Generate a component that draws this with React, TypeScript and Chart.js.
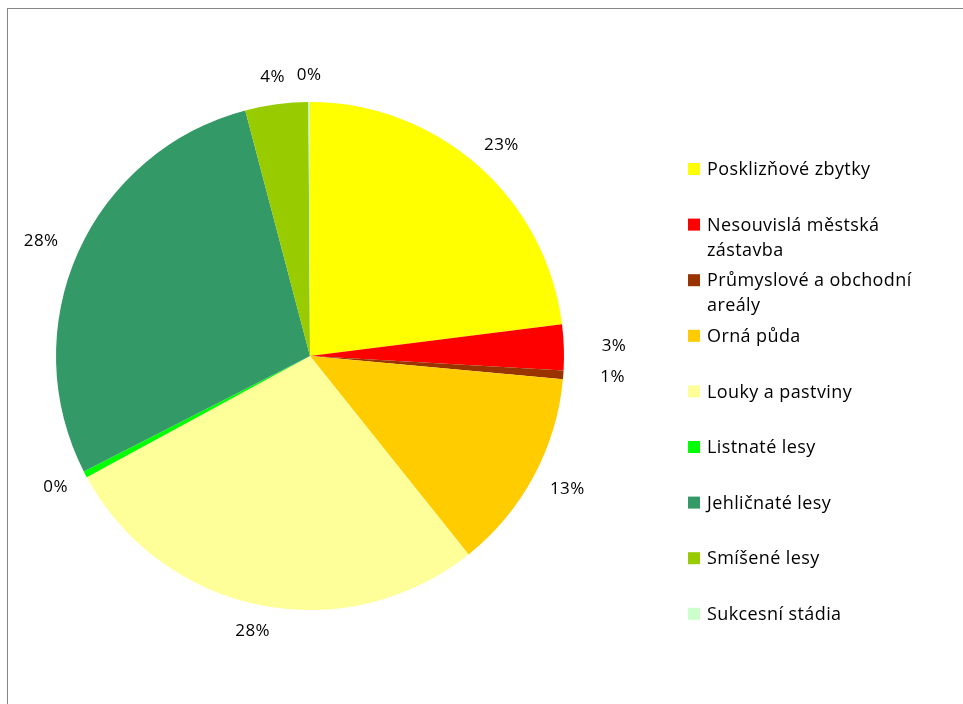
import React, { useEffect, useRef } from "react";
import { Chart, registerables } from "chart.js";

Chart.register(...registerables);

const categories = [
  "Posklizňové zbytky",
  "Nesouvislá městská zástavba",
  "Průmyslové a obchodní areály",
  "Orná půda",
  "Louky a pastviny",
  "Listnaté lesy",
  "Jehličnaté lesy",
  "Smíšené lesy",
  "Sukcesní stádia",
];
const values = [23.0, 2.9, 0.55, 12.8, 27.8, 0.4, 28.4, 4.0, 0.1];
const colors = [
  "#FFFF00",
  "#FF0000",
  "#993300",
  "#FFCC00",
  "#FFFF99",
  "#00FF00",
  "#339966",
  "#99CC00",
  "#CCFFCC",
];

const FONT = "'Open Sans', 'Noto Sans', sans-serif";

const labelsPlugin = {
  id: "outsideLabels",
  afterDatasetsDraw(chart: any) {
    const ctx = chart.ctx;
    const meta = chart.getDatasetMeta(0);
    const data = chart.data.datasets[0].data as number[];
    const total = data.reduce((a, b) => a + b, 0);
    ctx.save();
    ctx.font = `17px ${FONT}`;
    (ctx as any).letterSpacing = "0.4px";
    ctx.fillStyle = "#000";
    ctx.textAlign = "center";
    ctx.textBaseline = "middle";
    meta.data.forEach((arc: any, i: number) => {
      const { x, y, startAngle, endAngle, outerRadius } = arc.getProps(
        ["x", "y", "startAngle", "endAngle", "outerRadius"],
        true
      );
      const mid = (startAngle + endAngle) / 2;
      const c = Math.cos(mid);
      const s = Math.sin(mid);
      const txt = Math.round((data[i] / total) * 100) + "%";
      const w = ctx.measureText(txt).width;
      const gap = 18;
      const side = 20 * Math.pow(Math.abs(c), 16) * Math.sign(c);
      const px = x + (outerRadius + gap) * c + (w / 2) * c + side;
      const py = y + (outerRadius + gap) * s + 9 * s;
      ctx.fillText(txt, px, py);
    });
    ctx.restore();
  },
};

const legendPlugin = {
  id: "sideLegend",
  afterDraw(chart: any) {
    const ctx = chart.ctx;
    const labels = chart.data.labels as string[];
    const bg = chart.data.datasets[0].backgroundColor as string[];
    const boxX = 680;
    const textX = 699;
    const top = 160;
    const step = 55.6;
    const lineH = 25;
    const maxW = 235;
    ctx.save();
    ctx.font = `18px ${FONT}`;
    (ctx as any).letterSpacing = "0.4px";
    ctx.textAlign = "left";
    ctx.textBaseline = "middle";
    labels.forEach((lab, i) => {
      const y = top + i * step;
      ctx.fillStyle = bg[i];
      ctx.fillRect(boxX, y - 6, 12, 12);
      const words = lab.split(" ");
      const lines: string[] = [];
      let cur = "";
      words.forEach((wd) => {
        const t = cur ? cur + " " + wd : wd;
        if (ctx.measureText(t).width > maxW && cur) {
          lines.push(cur);
          cur = wd;
        } else cur = t;
      });
      if (cur) lines.push(cur);
      ctx.fillStyle = "#000";
      lines.forEach((ln, k) => ctx.fillText(ln, textX, y + 1 + k * lineH));
    });
    ctx.restore();
  },
};

export default function App() {
  const ref = useRef<HTMLCanvasElement>(null);
  useEffect(() => {
    const chart = new Chart(ref.current as HTMLCanvasElement, {
      type: "pie",
      data: {
        labels: categories,
        datasets: [
          {
            data: values,
            backgroundColor: colors,
            borderWidth: 0,
            hoverOffset: 0,
          },
        ],
      },
      options: {
        responsive: false,
        animation: false,
        events: [],
        layout: { padding: { left: 48, right: 399, top: 93, bottom: 94 } },
        plugins: {
          legend: { display: false },
          tooltip: { enabled: false },
        },
      },
      plugins: [labelsPlugin, legendPlugin],
    } as any);
    return () => chart.destroy();
  }, []);
  return (
    <div
      style={{
        position: "absolute",
        left: 7,
        top: 8,
        width: 956,
        height: 696,
        boxSizing: "border-box",
        borderTop: "1px solid #868686",
        borderLeft: "1px solid #868686",
      }}
    >
      <canvas ref={ref} width={955} height={695} style={{ display: "block" }} />
    </div>
  );
}
